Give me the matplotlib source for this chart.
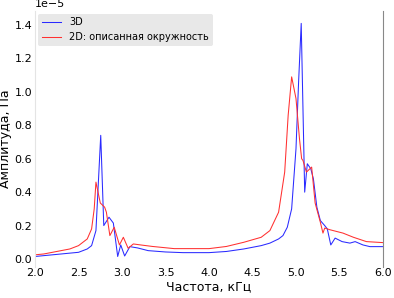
import matplotlib
matplotlib.use("Agg")
import matplotlib.pyplot as plt
import numpy as np

# Frequencies, kHz; amplitudes in units of 1e-5 Pa
freq_3d = [2.00, 2.10, 2.20, 2.30, 2.40, 2.50, 2.60, 2.65, 2.70, 2.755, 2.79,
           2.85, 2.90, 2.95, 2.985, 3.03, 3.09, 3.18, 3.30, 3.50, 3.70, 4.00,
           4.20, 4.40, 4.60, 4.70, 4.80, 4.85, 4.90, 4.95, 5.00, 5.03, 5.06,
           5.10, 5.13, 5.17, 5.20, 5.24, 5.28, 5.33, 5.36, 5.40, 5.45, 5.53,
           5.62, 5.68, 5.77, 5.85, 6.00]
amp_3d = [0.015, 0.02, 0.025, 0.03, 0.035, 0.04, 0.06, 0.08, 0.17, 0.74, 0.20,
          0.25, 0.215, 0.015, 0.084, 0.018, 0.074, 0.066, 0.05, 0.042, 0.038, 0.038,
          0.045, 0.06, 0.08, 0.095, 0.12, 0.14, 0.19, 0.30, 0.66, 1.06, 1.41,
          0.40, 0.57, 0.54, 0.48, 0.31, 0.23, 0.20, 0.18, 0.084, 0.125, 0.104,
          0.095, 0.104, 0.084, 0.074, 0.074]

freq_2d = [2.00, 2.10, 2.20, 2.30, 2.40, 2.50, 2.60, 2.65, 2.68, 2.70, 2.75,
           2.80, 2.82, 2.86, 2.91, 2.97, 3.015, 3.07, 3.13, 3.20, 3.35, 3.60,
           4.00, 4.20, 4.40, 4.60, 4.70, 4.80, 4.87, 4.91, 4.95, 5.00, 5.04,
           5.065, 5.08, 5.12, 5.18, 5.22, 5.28, 5.31, 5.33, 5.39, 5.54, 5.66,
           5.81, 6.00]
amp_2d = [0.025, 0.03, 0.04, 0.05, 0.06, 0.08, 0.12, 0.18, 0.30, 0.46, 0.335,
          0.31, 0.28, 0.14, 0.19, 0.084, 0.13, 0.064, 0.09, 0.085, 0.075, 0.062,
          0.062, 0.075, 0.10, 0.13, 0.17, 0.28, 0.52, 0.86, 1.09, 0.96, 0.72,
          0.60, 0.59, 0.52, 0.55, 0.335, 0.22, 0.155, 0.185, 0.175, 0.155, 0.13,
          0.104, 0.098]

labels = ["3D", "2D: описанная окружность"]

fig = plt.figure(figsize=(3.94, 2.98), dpi=100)
ax = fig.add_axes([0.089, 0.104, 0.883, 0.859])

ax.plot(freq_3d, np.array(amp_3d) * 1e-5, color="#2a2aff", lw=0.75, label=labels[0])
ax.plot(freq_2d, np.array(amp_2d) * 1e-5, color="#ff3030", lw=0.75, label=labels[1])

ax.set_xlim(2.0, 6.0)
ax.set_ylim(-0.048e-5, 1.484e-5)
ax.set_xticks(np.arange(2.0, 6.01, 0.5))
ax.set_yticks(np.arange(0, 1.41e-5, 0.2e-5))
ax.tick_params(axis="both", length=0, labelsize=8)
ax.tick_params(axis="y", pad=2)
ax.tick_params(axis="x", pad=1)
ax.yaxis.get_offset_text().set_fontsize(8)

for side in ["top", "bottom"]:
    ax.spines[side].set_visible(False)
ax.spines["left"].set_color("#e4e4e4")
ax.spines["right"].set_color("#888888")
ax.spines["left"].set_linewidth(0.8)
ax.spines["right"].set_linewidth(0.8)

ax.set_xlabel("Частота, кГц", fontsize=9, labelpad=1)
ax.set_ylabel("Амплитуда, Па", fontsize=9, labelpad=2)

leg = ax.legend(loc="upper left", bbox_to_anchor=(0.008, 0.99), fontsize=7,
                frameon=True, borderaxespad=0, fancybox=True, handlelength=2.0)
leg.get_frame().set_facecolor("#e8e8e8")
leg.get_frame().set_edgecolor("none")
leg.get_frame().set_alpha(1.0)

fig.savefig("out.png", dpi=100)
